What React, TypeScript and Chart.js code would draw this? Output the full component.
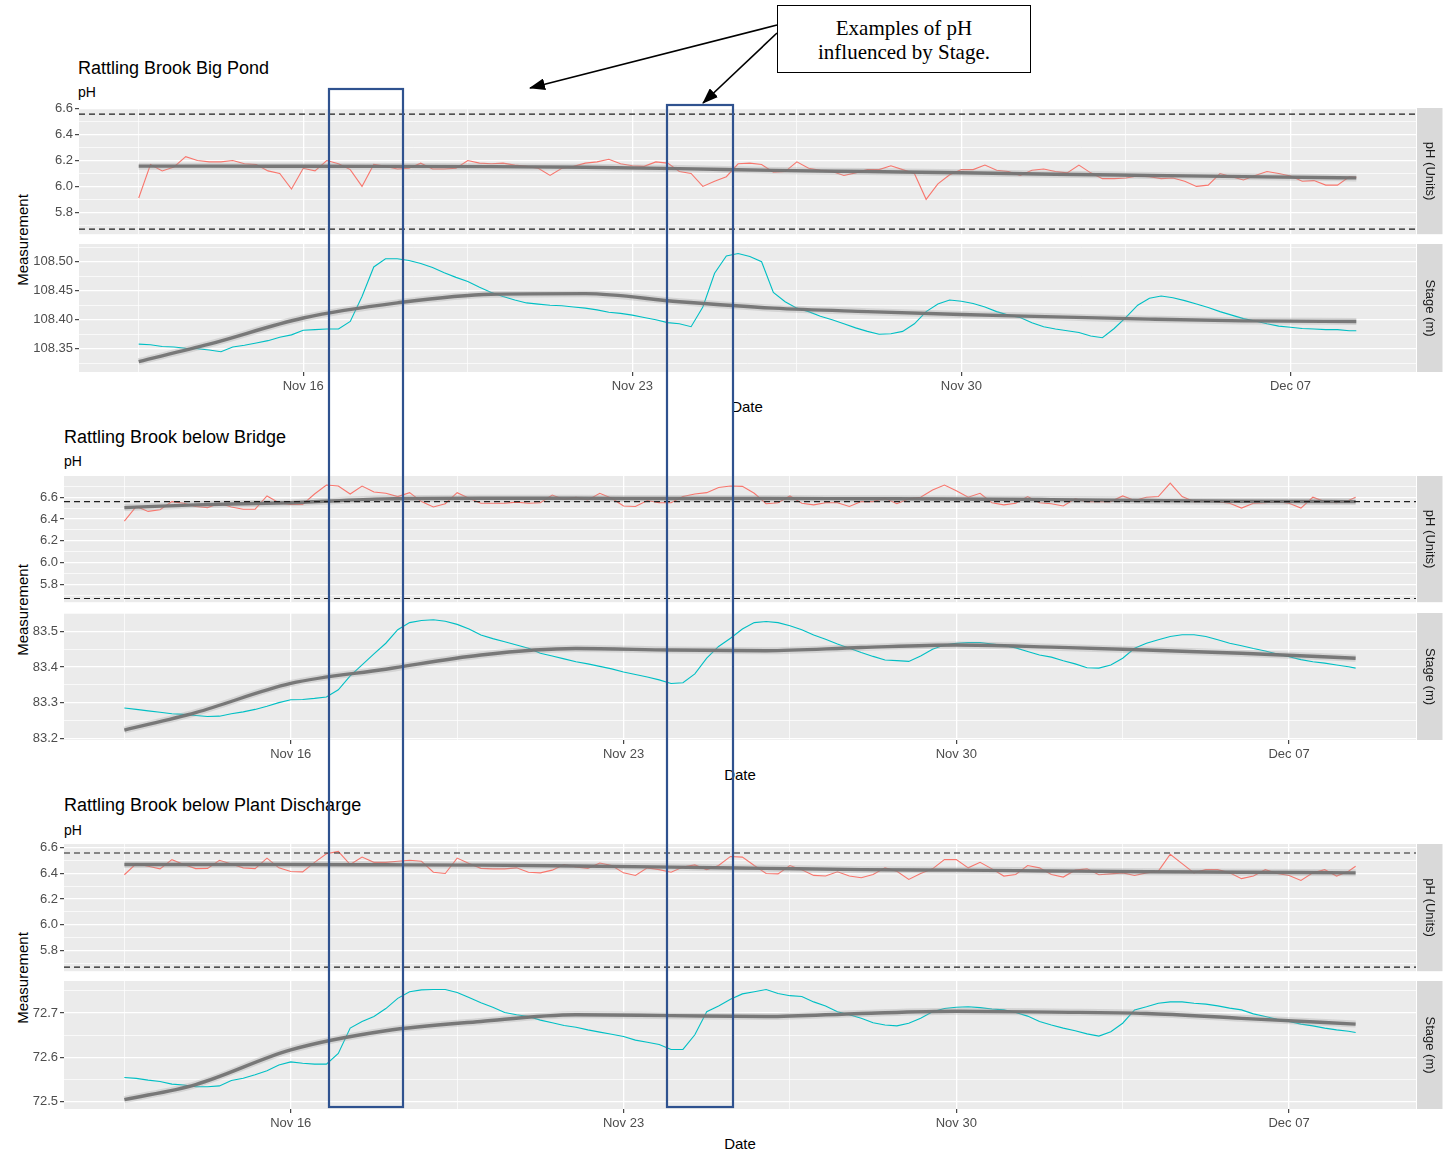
import React, { useEffect, useRef } from "react";
import { Chart, registerables } from "chart.js";

Chart.register(...registerables);

const FONT = '"Liberation Sans", Arial, Helvetica, sans-serif';
Chart.defaults.font.family = FONT;

// ---------- time axis (day number: Nov 16 = 16, Dec 07 = 37) ----------
const X_MIN = 11.23;
const X_MAX = 39.67;
const X_MAJOR = [16, 23, 30, 37];
const X_LABELS = ["Nov 16", "Nov 23", "Nov 30", "Dec 07"];
const X_MINOR = [12.5, 19.5, 26.5, 33.5];

// sampling times of the logged series
const TIMES = [
  12.5, 12.75, 13, 13.25, 13.5, 13.75, 14, 14.25, 14.5, 14.75,
  15, 15.25, 15.5, 15.75, 16, 16.25, 16.5, 16.75, 17, 17.25,
  17.5, 17.75, 18, 18.25, 18.5, 18.75, 19, 19.25, 19.5, 19.75,
  20, 20.25, 20.5, 20.75, 21, 21.25, 21.5, 21.75, 22, 22.25,
  22.5, 22.75, 23, 23.25, 23.5, 23.75, 24, 24.25, 24.5, 24.75,
  25, 25.25, 25.5, 25.75, 26, 26.25, 26.5, 26.75, 27, 27.25,
  27.5, 27.75, 28, 28.25, 28.5, 28.75, 29, 29.25, 29.5, 29.75,
  30, 30.25, 30.5, 30.75, 31, 31.25, 31.5, 31.75, 32, 32.25,
  32.5, 32.75, 33, 33.25, 33.5, 33.75, 34, 34.25, 34.5, 34.75,
  35, 35.25, 35.5, 35.75, 36, 36.25, 36.5, 36.75, 37, 37.25,
  37.5, 37.75, 38, 38.25, 38.4,
];
// sampling times of the smoothed trend lines
const TREND_TIMES = [12.5, 14, 16, 18, 20, 22, 24, 26, 28, 30, 32, 34, 36, 38.4];

// ---------- pH axis ----------
const PH_MAJOR = [5.8, 6.0, 6.2, 6.4, 6.6];
const PH_LABELS = ["5.8", "6.0", "6.2", "6.4", "6.6"];
const PH_MINOR = [5.7, 5.9, 6.1, 6.3, 6.5, 6.7];
const PH_LIMITS = [6.56, 5.67];

// ---------- Rattling Brook Big Pond ----------
const BIG_POND_PH = [
  5.91, 6.17, 6.12, 6.15, 6.23, 6.2, 6.19, 6.19, 6.2, 6.175,
  6.17, 6.12, 6.1, 5.98, 6.14, 6.12, 6.2, 6.175, 6.13, 6.0,
  6.17, 6.155, 6.135, 6.14, 6.18, 6.135, 6.135, 6.14, 6.2, 6.18,
  6.175, 6.18, 6.165, 6.155, 6.14, 6.085, 6.14, 6.155, 6.18, 6.19,
  6.21, 6.175, 6.16, 6.155, 6.19, 6.18, 6.115, 6.1, 6.0, 6.04,
  6.075, 6.175, 6.18, 6.17, 6.11, 6.115, 6.19, 6.14, 6.125, 6.115,
  6.085, 6.105, 6.13, 6.13, 6.16, 6.13, 6.1, 5.9, 6.02, 6.09,
  6.13, 6.13, 6.165, 6.125, 6.115, 6.085, 6.125, 6.135, 6.115, 6.105,
  6.165, 6.105, 6.06, 6.06, 6.065, 6.08, 6.075, 6.06, 6.065, 6.04,
  6.0, 6.01, 6.1, 6.075, 6.05, 6.085, 6.115, 6.1, 6.08, 6.04,
  6.045, 6.01, 6.01, 6.075, 6.07,
];
const BIG_POND_STAGE = [
  108.358, 108.357, 108.354, 108.353, 108.351, 108.35, 108.348, 108.345, 108.353, 108.356,
  108.36, 108.364, 108.37, 108.374, 108.382, 108.383, 108.384, 108.384, 108.397, 108.44,
  108.491, 108.505, 108.505, 108.502, 108.497, 108.49, 108.481, 108.473, 108.466, 108.456,
  108.447, 108.44, 108.434, 108.429, 108.427, 108.425, 108.424, 108.422, 108.42, 108.417,
  108.413, 108.411, 108.408, 108.404, 108.4, 108.395, 108.393, 108.388, 108.422, 108.48,
  108.51, 108.514, 108.509, 108.5, 108.447, 108.431, 108.42, 108.414, 108.406, 108.4,
  108.393, 108.386, 108.38, 108.375, 108.376, 108.38, 108.393, 108.414, 108.427, 108.434,
  108.432, 108.428, 108.422, 108.414, 108.408, 108.404, 108.395, 108.388, 108.384, 108.381,
  108.378, 108.372, 108.369, 108.385, 108.404, 108.425, 108.437, 108.441, 108.438, 108.433,
  108.427, 108.421, 108.414, 108.408, 108.402, 108.398, 108.393, 108.389, 108.387, 108.385,
  108.384, 108.383, 108.383, 108.381, 108.381,
];
const BIG_POND_PH_TREND = [6.157, 6.157, 6.156, 6.155, 6.153, 6.148, 6.138, 6.124, 6.115, 6.106, 6.094, 6.085, 6.076, 6.066];
const BIG_POND_STAGE_TREND = [108.328, 108.358, 108.403, 108.429, 108.444, 108.445, 108.431, 108.42, 108.414, 108.409, 108.405, 108.401, 108.398, 108.397];
const BIG_POND_STAGE_MAJOR = [108.35, 108.4, 108.45, 108.5];
const BIG_POND_STAGE_LABELS = ["108.35", "108.40", "108.45", "108.50"];
const BIG_POND_STAGE_MINOR = [108.325, 108.375, 108.425, 108.475, 108.525];

// ---------- Rattling Brook below Bridge ----------
const BRIDGE_PH = [
  6.38, 6.515, 6.47, 6.485, 6.56, 6.545, 6.515, 6.505, 6.545, 6.51,
  6.49, 6.49, 6.612, 6.55, 6.533, 6.533, 6.63, 6.712, 6.703, 6.63,
  6.703, 6.648, 6.636, 6.606, 6.642, 6.56, 6.51, 6.54, 6.642, 6.59,
  6.545, 6.545, 6.545, 6.555, 6.545, 6.55, 6.62, 6.58, 6.6, 6.575,
  6.636, 6.59, 6.52, 6.515, 6.57, 6.55, 6.55, 6.606, 6.63, 6.642,
  6.69, 6.703, 6.7, 6.636, 6.54, 6.55, 6.612, 6.545, 6.53, 6.55,
  6.55, 6.515, 6.56, 6.56, 6.59, 6.54, 6.585, 6.6, 6.667, 6.712,
  6.66, 6.6, 6.636, 6.55, 6.53, 6.545, 6.606, 6.55, 6.54, 6.52,
  6.585, 6.56, 6.56, 6.56, 6.612, 6.57, 6.6, 6.606, 6.73, 6.606,
  6.56, 6.565, 6.56, 6.545, 6.5, 6.545, 6.55, 6.56, 6.545, 6.5,
  6.6, 6.56, 6.55, 6.57, 6.6,
];
const BRIDGE_STAGE = [
  83.285, 83.281, 83.277, 83.273, 83.269, 83.267, 83.264, 83.261, 83.262, 83.269,
  83.274, 83.281, 83.29, 83.3, 83.308, 83.309, 83.312, 83.316, 83.336, 83.375,
  83.406, 83.437, 83.467, 83.505, 83.525, 83.531, 83.533, 83.529, 83.52, 83.507,
  83.49, 83.48, 83.471, 83.462, 83.453, 83.439, 83.431, 83.423, 83.415, 83.409,
  83.402, 83.395, 83.386, 83.379, 83.372, 83.364, 83.354, 83.356, 83.381, 83.425,
  83.458, 83.481, 83.507, 83.525, 83.528, 83.525, 83.516, 83.505, 83.49, 83.478,
  83.465, 83.453, 83.441, 83.43, 83.42, 83.418, 83.416, 83.431, 83.45, 83.462,
  83.467, 83.469, 83.469, 83.465, 83.461, 83.454, 83.444, 83.434, 83.428, 83.418,
  83.409, 83.398, 83.397, 83.406, 83.425, 83.453, 83.467, 83.477, 83.486, 83.491,
  83.491, 83.486, 83.477, 83.467, 83.46, 83.452, 83.445, 83.437, 83.429, 83.421,
  83.415, 83.411, 83.406, 83.401, 83.397,
];
const BRIDGE_PH_TREND = [6.505, 6.53, 6.55, 6.585, 6.59, 6.59, 6.588, 6.588, 6.586, 6.584, 6.578, 6.57, 6.563, 6.56];
const BRIDGE_STAGE_TREND = [83.223, 83.272, 83.354, 83.394, 83.434, 83.452, 83.448, 83.446, 83.455, 83.462, 83.456, 83.448, 83.439, 83.425];
const BRIDGE_STAGE_MAJOR = [83.2, 83.3, 83.4, 83.5];
const BRIDGE_STAGE_LABELS = ["83.2", "83.3", "83.4", "83.5"];
const BRIDGE_STAGE_MINOR = [83.25, 83.35, 83.45, 83.55];

// ---------- Rattling Brook below Plant Discharge ----------
const PLANT_PH = [
  6.39, 6.477, 6.456, 6.436, 6.508, 6.47, 6.438, 6.44, 6.503, 6.474,
  6.444, 6.438, 6.52, 6.444, 6.415, 6.413, 6.487, 6.554, 6.572, 6.47,
  6.528, 6.487, 6.487, 6.495, 6.503, 6.495, 6.41, 6.4, 6.52, 6.477,
  6.44, 6.436, 6.436, 6.444, 6.41, 6.405, 6.426, 6.47, 6.451, 6.44,
  6.482, 6.462, 6.405, 6.385, 6.444, 6.43, 6.41, 6.451, 6.467, 6.43,
  6.462, 6.533, 6.528, 6.462, 6.4, 6.397, 6.462, 6.43, 6.385, 6.38,
  6.413, 6.38, 6.367, 6.392, 6.444, 6.418, 6.354, 6.4, 6.436, 6.508,
  6.508, 6.444, 6.487, 6.436, 6.38, 6.392, 6.462, 6.444, 6.392, 6.372,
  6.426, 6.436, 6.39, 6.397, 6.405, 6.385, 6.405, 6.418, 6.55, 6.477,
  6.405, 6.43, 6.43, 6.405, 6.36, 6.38, 6.43, 6.4, 6.385, 6.346,
  6.405, 6.43, 6.38, 6.418, 6.456,
];
const PLANT_STAGE = [
  72.555, 72.553, 72.549, 72.546, 72.54, 72.538, 72.534, 72.534, 72.536, 72.548,
  72.553, 72.561, 72.57, 72.583, 72.59, 72.587, 72.585, 72.585, 72.609, 72.666,
  72.681, 72.692, 72.71, 72.733, 72.748, 72.752, 72.753, 72.753, 72.746, 72.735,
  72.723, 72.713, 72.701, 72.696, 72.692, 72.684, 72.678, 72.672, 72.668, 72.662,
  72.657, 72.652, 72.647, 72.639, 72.634, 72.629, 72.618, 72.618, 72.651, 72.703,
  72.716, 72.731, 72.743, 72.748, 72.753, 72.744, 72.739, 72.737, 72.725, 72.716,
  72.703, 72.696, 72.688, 72.678, 72.673, 72.671, 72.677, 72.688, 72.703, 72.71,
  72.713, 72.714, 72.712, 72.709, 72.707, 72.701, 72.693, 72.681, 72.673, 72.666,
  72.66, 72.653, 72.648, 72.658, 72.677, 72.707, 72.714, 72.722, 72.725, 72.725,
  72.722, 72.72, 72.716, 72.711, 72.707, 72.698, 72.692, 72.686, 72.681, 72.675,
  72.671, 72.666, 72.662, 72.659, 72.656,
];
const PLANT_PH_TREND = [6.47, 6.47, 6.47, 6.468, 6.465, 6.458, 6.45, 6.44, 6.43, 6.426, 6.42, 6.414, 6.41, 6.405];
const PLANT_STAGE_TREND = [72.505, 72.539, 72.617, 72.66, 72.681, 72.696, 72.694, 72.692, 72.699, 72.704, 72.702, 72.699, 72.688, 72.675];
const PLANT_STAGE_MAJOR = [72.5, 72.6, 72.7];
const PLANT_STAGE_LABELS = ["72.5", "72.6", "72.7"];
const PLANT_STAGE_MINOR = [72.55, 72.65, 72.75];

const PH_COLOR = "#F8766D";
const STAGE_COLOR = "#00BFC4";
const PLOT_RIGHT = 1416;
const PAGE_W = 1448;

type AxisSpec = { min: number; max: number; major: number[]; labels: string[]; minor: number[] };

const near = (arr: number[], v: number) => arr.findIndex((m) => Math.abs(m - v) < 1e-7);

const panelBg = {
  id: "panelBg",
  beforeDraw(chart: any, _args: any, opts: any) {
    const { ctx, chartArea: a } = chart;
    ctx.save();
    ctx.fillStyle = "#EBEBEB";
    ctx.fillRect(a.left, a.top, a.right - a.left, a.bottom - a.top);
    ctx.fillStyle = "#D9D9D9";
    ctx.fillRect(a.right + 1, a.top, 25.5, a.bottom - a.top);
    ctx.translate(a.right + 14, (a.top + a.bottom) / 2);
    ctx.rotate(Math.PI / 2);
    ctx.fillStyle = "#1A1A1A";
    ctx.font = `13px ${FONT}`;
    ctx.textAlign = "center";
    ctx.textBaseline = "middle";
    ctx.fillText(opts.strip || "", 0, 0);
    ctx.restore();
  },
};

function SubPlot(props: {
  plotLeft: number;
  plotTop: number;
  plotBottom: number;
  showX: boolean;
  strip: string;
  values: number[];
  trend: number[];
  color: string;
  y: AxisSpec;
  limits?: number[];
}) {
  const ref = useRef<HTMLCanvasElement | null>(null);
  const PAD_TOP = 10;
  const xH = props.showX ? 26 : 0;
  const padBottom = props.showX ? 0 : 8;
  const plotH = props.plotBottom - props.plotTop;
  const H = PAD_TOP + plotH + xH + padBottom;

  useEffect(() => {
    if (!ref.current) return;
    const y = props.y;
    const datasets: any[] = [];
    (props.limits || []).forEach((lv) =>
      datasets.push({
        data: [
          { x: X_MIN, y: lv },
          { x: X_MAX, y: lv },
        ],
        borderColor: "#1F1F1F",
        borderWidth: 1.2,
        borderDash: [6, 4],
        pointRadius: 0,
        order: 0,
      })
    );
    const trendPts = TREND_TIMES.map((t, i) => ({ x: t, y: props.trend[i] }));
    datasets.push({
      data: trendPts,
      borderColor: "rgba(115,115,115,0.95)",
      borderWidth: 3.4,
      pointRadius: 0,
      cubicInterpolationMode: "monotone",
      order: 1,
    });
    datasets.push({
      data: trendPts,
      borderColor: "rgba(160,160,160,0.3)",
      borderWidth: 7,
      pointRadius: 0,
      cubicInterpolationMode: "monotone",
      order: 2,
    });
    datasets.push({
      data: TIMES.map((t, i) => ({ x: t, y: props.values[i] })),
      borderColor: props.color,
      borderWidth: 1.1,
      pointRadius: 0,
      tension: 0,
      order: 3,
    });

    const chart = new Chart(ref.current, {
      type: "line",
      data: { datasets },
      plugins: [panelBg as any],
      options: {
        animation: false,
        responsive: false,
        maintainAspectRatio: false,
        devicePixelRatio: 1,
        events: [],
        layout: { padding: { top: PAD_TOP, right: PAGE_W - PLOT_RIGHT, bottom: padBottom, left: 0 } },
        plugins: {
          legend: { display: false },
          tooltip: { enabled: false },
          title: { display: false },
          panelBg: { strip: props.strip },
        } as any,
        scales: {
          x: {
            type: "linear",
            min: X_MIN,
            max: X_MAX,
            afterBuildTicks: (s: any) => {
              s.ticks = [...X_MINOR, ...X_MAJOR].sort((a, b) => a - b).map((v) => ({ value: v }));
            },
            afterFit: (s: any) => {
              s.height = xH;
            },
            border: { display: false },
            grid: {
              color: "#FFFFFF",
              lineWidth: (c: any) => (c.tick && near(X_MAJOR, c.tick.value) >= 0 ? 1.3 : 0.7),
              drawTicks: props.showX,
              tickLength: 4,
              tickWidth: 1.1,
              tickColor: (c: any) => (c.tick && near(X_MAJOR, c.tick.value) >= 0 ? "#333333" : "rgba(0,0,0,0)"),
            },
            ticks: {
              display: props.showX,
              autoSkip: false,
              maxRotation: 0,
              minRotation: 0,
              padding: 3,
              color: "#4D4D4D",
              font: { family: FONT, size: 13 },
              callback: (v: any) => {
                const i = near(X_MAJOR, Number(v));
                return i >= 0 ? X_LABELS[i] : "";
              },
            },
          },
          y: {
            type: "linear",
            position: "left",
            min: y.min,
            max: y.max,
            afterBuildTicks: (s: any) => {
              s.ticks = [...y.minor, ...y.major]
                .filter((v) => v >= y.min - 1e-9 && v <= y.max + 1e-9)
                .sort((a, b) => a - b)
                .map((v) => ({ value: v }));
            },
            afterFit: (s: any) => {
              s.width = props.plotLeft;
            },
            border: { display: false },
            grid: {
              color: "#FFFFFF",
              lineWidth: (c: any) => (c.tick && near(y.major, c.tick.value) >= 0 ? 1.3 : 0.7),
              drawTicks: true,
              tickLength: 4,
              tickWidth: 1.1,
              tickColor: (c: any) => (c.tick && near(y.major, c.tick.value) >= 0 ? "#333333" : "rgba(0,0,0,0)"),
            },
            ticks: {
              autoSkip: false,
              padding: 2,
              color: "#4D4D4D",
              font: { family: FONT, size: 13 },
              callback: (v: any) => {
                const i = near(y.major, Number(v));
                return i >= 0 ? y.labels[i] : "";
              },
            },
          },
        },
      } as any,
    });
    return () => chart.destroy();
  }, []);

  return (
    <canvas
      ref={ref}
      width={PAGE_W}
      height={H}
      style={{ position: "absolute", left: 0, top: props.plotTop - PAD_TOP, width: PAGE_W, height: H }}
    />
  );
}

type Site = {
  title: string;
  titleLeft: number;
  titleTop: number;
  subTop: number;
  plotLeft: number;
  phTop: number;
  phBottom: number;
  stTop: number;
  stBottom: number;
  measY: number;
  dateX: number;
  dateY: number;
  ph: number[];
  phTrend: number[];
  stage: number[];
  stageTrend: number[];
  phAxis: AxisSpec;
  stageAxis: AxisSpec;
};

const SITES: Site[] = [
  {
    title: "Rattling Brook Big Pond",
    titleLeft: 78, titleTop: 59, subTop: 85, plotLeft: 79,
    phTop: 108, phBottom: 236, stTop: 244, stBottom: 372,
    measY: 240, dateX: 747, dateY: 406,
    ph: BIG_POND_PH, phTrend: BIG_POND_PH_TREND, stage: BIG_POND_STAGE, stageTrend: BIG_POND_STAGE_TREND,
    phAxis: { min: 5.63, max: 6.607, major: PH_MAJOR, labels: PH_LABELS, minor: PH_MINOR },
    stageAxis: { min: 108.31, max: 108.5305, major: BIG_POND_STAGE_MAJOR, labels: BIG_POND_STAGE_LABELS, minor: BIG_POND_STAGE_MINOR },
  },
  {
    title: "Rattling Brook below Bridge",
    titleLeft: 64, titleTop: 428, subTop: 454, plotLeft: 64,
    phTop: 476, phBottom: 604, stTop: 613, stBottom: 740,
    measY: 610, dateX: 740, dateY: 774,
    ph: BRIDGE_PH, phTrend: BRIDGE_PH_TREND, stage: BRIDGE_STAGE, stageTrend: BRIDGE_STAGE_TREND,
    phAxis: { min: 5.636, max: 6.795, major: PH_MAJOR, labels: PH_LABELS, minor: PH_MINOR },
    stageAxis: { min: 83.195, max: 83.552, major: BRIDGE_STAGE_MAJOR, labels: BRIDGE_STAGE_LABELS, minor: BRIDGE_STAGE_MINOR },
  },
  {
    title: "Rattling Brook below Plant Discharge",
    titleLeft: 64, titleTop: 796, subTop: 823, plotLeft: 64,
    phTop: 844, phBottom: 973, stTop: 981, stBottom: 1109,
    measY: 978, dateX: 740, dateY: 1143,
    ph: PLANT_PH, phTrend: PLANT_PH_TREND, stage: PLANT_STAGE, stageTrend: PLANT_STAGE_TREND,
    phAxis: { min: 5.638, max: 6.63, major: PH_MAJOR, labels: PH_LABELS, minor: PH_MINOR },
    stageAxis: { min: 72.484, max: 72.772, major: PLANT_STAGE_MAJOR, labels: PLANT_STAGE_LABELS, minor: PLANT_STAGE_MINOR },
  },
];

function Panel({ s }: { s: Site }) {
  const txt: React.CSSProperties = { position: "absolute", whiteSpace: "nowrap", fontFamily: FONT, color: "#000" };
  return (
    <>
      <div style={{ ...txt, left: s.titleLeft, top: s.titleTop, fontSize: 18, lineHeight: "18px" }}>{s.title}</div>
      <div style={{ ...txt, left: s.titleLeft, top: s.subTop, fontSize: 14, lineHeight: "14px" }}>pH</div>
      <div
        style={{
          ...txt,
          left: 22,
          top: s.measY,
          fontSize: 15,
          lineHeight: "15px",
          transform: "translate(-50%, -50%) rotate(-90deg)",
        }}
      >
        Measurement
      </div>
      <div style={{ ...txt, left: s.dateX, top: s.dateY, fontSize: 15, lineHeight: "15px", transform: "translate(-50%, -50%)" }}>
        Date
      </div>
      <SubPlot
        plotLeft={s.plotLeft}
        plotTop={s.phTop}
        plotBottom={s.phBottom}
        showX={false}
        strip="pH (Units)"
        values={s.ph}
        trend={s.phTrend}
        color={PH_COLOR}
        y={s.phAxis}
        limits={PH_LIMITS}
      />
      <SubPlot
        plotLeft={s.plotLeft}
        plotTop={s.stTop}
        plotBottom={s.stBottom}
        showX={true}
        strip="Stage (m)"
        values={s.stage}
        trend={s.stageTrend}
        color={STAGE_COLOR}
        y={s.stageAxis}
      />
    </>
  );
}

function Overlay() {
  const serif = '"Liberation Serif", "Times New Roman", serif';
  return (
    <svg width={PAGE_W} height={1151} style={{ position: "absolute", left: 0, top: 0, pointerEvents: "none" }}>
      <defs>
        <marker id="ah" markerUnits="userSpaceOnUse" markerWidth="16" markerHeight="12" refX="15" refY="6" orient="auto">
          <path d="M0,0 L16,6 L0,12 Z" fill="#000" />
        </marker>
      </defs>
      <rect x={329} y={89} width={74} height={1018} fill="none" stroke="#2F528F" strokeWidth={2.2} />
      <rect x={667} y={105} width={66} height={1002} fill="none" stroke="#2F528F" strokeWidth={2.2} />
      <line x1={777} y1={25} x2={530} y2={88} stroke="#000" strokeWidth={1.6} markerEnd="url(#ah)" />
      <line x1={777} y1={33} x2={703} y2={103} stroke="#000" strokeWidth={1.6} markerEnd="url(#ah)" />
      <rect x={777.5} y={5.5} width={253} height={67} fill="#fff" stroke="#000" strokeWidth={1} />
      <text x={904} y={35} textAnchor="middle" fontFamily={serif} fontSize={21} fill="#000">
        Examples of pH
      </text>
      <text x={904} y={59} textAnchor="middle" fontFamily={serif} fontSize={21} fill="#000">
        influenced by Stage.
      </text>
    </svg>
  );
}

export default function App() {
  return (
    <div style={{ position: "absolute", left: 0, top: 0, width: PAGE_W, height: 1151, background: "#fff", overflow: "hidden" }}>
      {SITES.map((s) => (
        <Panel key={s.title} s={s} />
      ))}
      <Overlay />
    </div>
  );
}
